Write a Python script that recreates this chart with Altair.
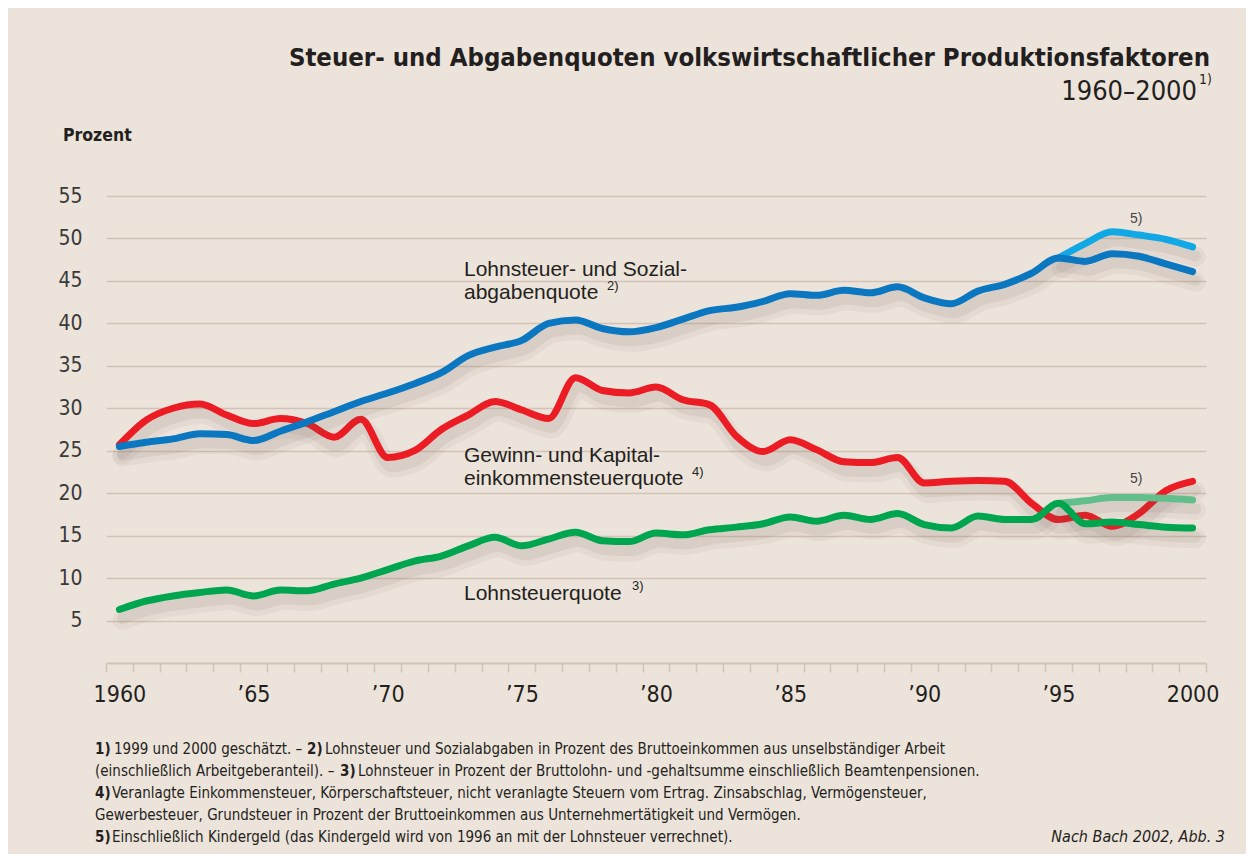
import altair as alt
import pandas as pd

# ---------------- data ----------------
years = list(range(1960, 2001))
lohn_sozial = [25.5, 26.0, 26.4, 27.0, 26.9, 26.2, 27.3, 28.4, 29.6, 30.8,
               31.8, 32.9, 34.2, 36.2, 37.2, 38.0, 40.0, 40.4, 39.4, 39.0,
               39.5, 40.5, 41.5, 41.9, 42.6, 43.5, 43.3, 43.9, 43.6, 44.3,
               43.0, 42.3, 43.8, 44.6, 45.9, 47.7, 47.3, 48.2, 47.9, 47.0, 46.1]
gewinn_kapital = [25.7, 28.6, 30.0, 30.5, 29.2, 28.2, 28.8, 28.2, 26.6, 28.7,
                  24.2, 25.0, 27.5, 29.2, 30.8, 29.8, 28.8, 33.6, 32.1, 31.8,
                  32.5, 31.0, 30.4, 26.7, 24.9, 26.3, 25.1, 23.7, 23.6, 24.2,
                  21.2, 21.4, 21.5, 21.4, 18.8, 16.9, 17.4, 16.1, 17.6, 20.3, 21.4]
lohnsteuer = [6.3, 7.3, 7.9, 8.3, 8.6, 7.9, 8.6, 8.5, 9.3, 10.0,
              11.0, 12.0, 12.6, 13.8, 14.8, 13.8, 14.6, 15.4, 14.4, 14.3,
              15.3, 15.1, 15.7, 16.0, 16.4, 17.2, 16.7, 17.4, 16.9, 17.6,
              16.3, 15.9, 17.3, 16.9, 16.9, 18.8, 16.4, 16.6, 16.3, 16.0, 15.9]
years_kg = [1995, 1996, 1997, 1998, 1999, 2000]
lohn_sozial_kg = [47.7, 49.4, 50.8, 50.4, 49.9, 49.0]
lohnsteuer_kg = [18.8, 19.1, 19.5, 19.5, 19.4, 19.2]

y_ticks = [5, 10, 15, 20, 25, 30, 35, 40, 45, 50, 55]
x_label_years = [1960, 1965, 1970, 1975, 1980, 1985, 1990, 1995, 2000]
x_tick_positions = [y + 0.5 for y in range(1959, 2001)]

title_text = "Steuer- und Abgabenquoten volkswirtschaftlicher Produktionsfaktoren"
subtitle_text = "1960–2000"
y_title = "Prozent"
label_blue = ["Lohnsteuer- und Sozial-", "abgabenquote"]
label_red = ["Gewinn- und Kapital-", "einkommensteuerquote"]
label_green = "Lohnsteuerquote"
note_source = "Nach Bach 2002, Abb. 3"

# ---------------- style ----------------
BG = "#ECE3DA"
GRID = "#D3C3B6"
TXT = "#231F20"
BLUE = "#0A77C0"
LBLUE = "#12A8E5"
RED = "#EC1C24"
GREEN = "#00A54F"
LGREEN = "#62BF8C"
COND = "Liberation Sans Narrow, Arial Narrow, DejaVu Sans Condensed, sans-serif"
SANS = "Liberation Sans, Arial, sans-serif"
FN = 15  # footnote font size

W, H = 1100, 467

frames = []
for name, xs, vals in [("ls", years, lohn_sozial), ("gk", years, gewinn_kapital),
                       ("l", years, lohnsteuer), ("ls_kg", years_kg, lohn_sozial_kg),
                       ("l_kg", years_kg, lohnsteuer_kg)]:
    frames.append(pd.DataFrame({"year": xs, "value": vals, "series": name}))
df = pd.concat(frames, ignore_index=True)

xscale = alt.Scale(domain=[1959.5, 2000.5], nice=False, zero=False)
yscale = alt.Scale(domain=[0, 55], nice=False)

label_expr = ("datum.value == 1960 ? '1960' : datum.value == 2000 ? '2000' : "
              "'’' + substring(toString(datum.value), 2, 4)")

X_main = alt.X("year:Q", scale=xscale,
               axis=alt.Axis(values=x_label_years, labelExpr=label_expr, ticks=False,
                             domain=True, domainColor=GRID, domainWidth=2, grid=False,
                             title=None, labelFont=COND, labelFontSize=23,
                             labelColor=TXT, labelPadding=20, labelFontWeight=300))
Y_main = alt.Y("value:Q", scale=yscale,
               axis=alt.Axis(values=y_ticks, grid=True, gridColor=GRID, gridWidth=1.6,
                             domain=False, ticks=False, title=None, labelFont=COND,
                             labelFontSize=21, labelColor="#3A3A3A", labelPadding=24,
                             labelFontWeight=300))


def series_layers(name, color, first=False):
    base = alt.Chart(df).transform_filter(alt.datum.series == name)
    x = X_main if first else alt.X("year:Q", scale=xscale)
    y = Y_main if first else alt.Y("value:Q", scale=yscale)
    sh1 = base.mark_line(color="#6B5A4E", opacity=0.06, strokeWidth=20, yOffset=10,
                         xOffset=3, interpolate="monotone", strokeCap="round",
                         strokeJoin="round").encode(x=x, y=y)
    sh2 = base.mark_line(color="#6B5A4E", opacity=0.09, strokeWidth=11, yOffset=9,
                         xOffset=3, interpolate="monotone", strokeCap="round",
                         strokeJoin="round").encode(x=x, y=y)
    ln = base.mark_line(color=color, strokeWidth=7, interpolate="monotone",
                        strokeCap="round", strokeJoin="round").encode(x=x, y=y)
    return [sh1, sh2, ln]


layers = []
layers += series_layers("gk", RED, first=True)
layers += series_layers("l_kg", LGREEN)
layers += series_layers("l", GREEN)
layers += series_layers("ls_kg", LBLUE)
layers += series_layers("ls", BLUE)


def txt(text, x, y, size, font=SANS, weight="normal", align="left", style="normal",
        color=TXT):
    kw = dict(align=align, baseline="alphabetic", font=font, fontSize=size,
              fontWeight=weight, fontStyle=style, color=color)
    return alt.Chart(pd.DataFrame({"t": [text]})).mark_text(**kw).encode(
        text="t:N", x=alt.value(x), y=alt.value(y))


texts = [
    txt(title_text, 1104, -130, 25.5, font=COND, weight="bold", align="right"),
    txt(subtitle_text, 1091, -96, 27, font=COND, weight=300, align="right"),
    txt("1)", 1093, -112, 14, font=COND, weight=300),
    txt(y_title, -43, -55, 17.5, font=COND, weight="bold"),
    txt(label_blue[0], 358, 80, 21),
    txt(label_blue[1], 358, 103, 21),
    txt("2)", 501, 94, 13),
    txt(label_red[0], 358, 266, 21),
    txt(label_red[1], 358, 289, 21),
    txt("4)", 586, 280, 13),
    txt(label_green, 358, 404, 21),
    txt("3)", 526, 394, 13),
    txt("5)", 1024, 27, 14, color="#444444"),
    txt("5)", 1024, 287, 14, color="#444444"),
    # footnotes
    txt("1)", -11, 558, FN, font=COND, weight="bold"),
    txt("1999 und 2000 geschätzt. –", 8, 558, FN, font=COND),
    txt("2)", 201, 558, FN, font=COND, weight="bold"),
    txt("Lohnsteuer und Sozialabgaben in Prozent des Bruttoeinkommen aus unselbständiger Arbeit",
        219, 558, FN, font=COND),
    txt("(einschließlich Arbeitgeberanteil). –", -11, 580, FN, font=COND),
    txt("3)", 234, 580, FN, font=COND, weight="bold"),
    txt("Lohnsteuer in Prozent der Bruttolohn- und -gehaltsumme einschließlich Beamtenpensionen.",
        252, 580, FN, font=COND),
    txt("4)", -11, 602, FN, font=COND, weight="bold"),
    txt("Veranlagte Einkommensteuer, Körperschaftsteuer, nicht veranlagte Steuern vom Ertrag. Zinsabschlag, Vermögensteuer,",
        6, 602, FN, font=COND),
    txt("Gewerbesteuer, Grundsteuer in Prozent der Bruttoeinkommen aus Unternehmertätigkeit und Vermögen.",
        -11, 624, FN, font=COND),
    txt("5)", -11, 646, FN, font=COND, weight="bold"),
    txt("Einschließlich Kindergeld (das Kindergeld wird von 1996 an mit der Lohnsteuer verrechnet).",
        6, 646, FN, font=COND),
    txt(note_source, 1119, 646, 16, font=COND, style="italic", align="right"),
]

main = alt.layer(*layers, *texts)

ticks_layer = alt.Chart(pd.DataFrame({"t": x_tick_positions})).mark_point(opacity=0).encode(
    x=alt.X("t:Q", scale=xscale,
            axis=alt.Axis(values=x_tick_positions, labels=False, tickSize=9,
                          tickColor=GRID, tickWidth=1.5, domain=False, grid=False,
                          title=None, orient="bottom"))
)

chart = alt.layer(main, ticks_layer).resolve_axis(x="independent").properties(
    width=W, height=H,
    background=BG,
    padding={"left": 98, "top": 188, "right": 40, "bottom": 191},
    autosize=alt.AutoSizeParams(type="none"),
).configure_view(stroke=None)

chart.save("out.html", embed_options={"renderer": "svg", "actions": False})
